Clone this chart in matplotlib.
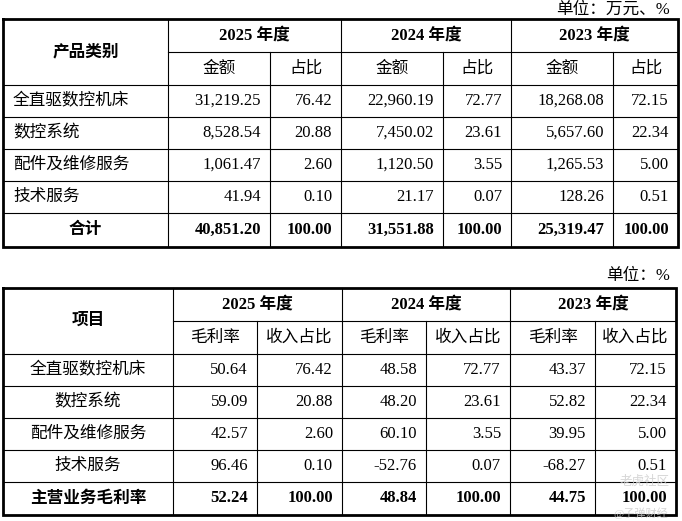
import matplotlib.pyplot as plt

years = ["2025 年度", "2024 年度", "2023 年度"]

# 表一：主营业务收入构成
cats1 = ["全直驱数控机床", "数控系统", "配件及维修服务", "技术服务"]
amt_2025 = [31219.25, 8528.54, 1061.47, 41.94]
pct_2025 = [76.42, 20.88, 2.60, 0.10]
amt_2024 = [22960.19, 7450.02, 1120.50, 21.17]
pct_2024 = [72.77, 23.61, 3.55, 0.07]
amt_2023 = [18268.08, 5657.60, 1265.53, 128.26]
pct_2023 = [72.15, 22.34, 5.00, 0.51]
total_amt = [40851.20, 31551.88, 25319.47]
total_pct = [100.00, 100.00, 100.00]

# 表二：毛利率
cats2 = ["全直驱数控机床", "数控系统", "配件及维修服务", "技术服务"]
gm_2025 = [50.64, 59.09, 42.57, 96.46]
share_2025 = [76.42, 20.88, 2.60, 0.10]
gm_2024 = [48.58, 48.20, 60.10, -52.76]
share_2024 = [72.77, 23.61, 3.55, 0.07]
gm_2023 = [43.37, 52.82, 39.95, -68.27]
share_2023 = [72.15, 22.34, 5.00, 0.51]
total_gm = [52.24, 48.84, 44.75]
total_share = [100.00, 100.00, 100.00]

FONT = ["Liberation Serif", "Noto Sans CJK SC", "DejaVu Sans"]
HFONT = ["Liberation Serif", "Noto Sans CJK SC", "DejaVu Sans"]

fig = plt.figure(figsize=(6.82, 5.21), dpi=100)
ax = fig.add_axes([0, 0, 1, 1])
ax.set_xlim(0, 682)
ax.set_ylim(521, 0)
ax.axis("off")

OUT = 2.0
IN = 0.8


def draw_table(cols, rows, first_head, sub_heads, cats, cols_data, totals,
               total_label, fmt, cat_align):
    x0, x1 = cols[0], cols[-1]
    y0, y1 = rows[0], rows[-1]
    # horizontal lines
    ax.plot([cols[1], x1], [rows[1], rows[1]], color="black", lw=IN)
    for y in rows[2:-1]:
        ax.plot([x0, x1], [y, y], color="black", lw=IN)
    # vertical lines
    for i, x in enumerate(cols[1:-1], start=1):
        top = y0 if i % 2 == 1 else rows[1]
        ax.plot([x, x], [top, y1], color="black", lw=IN)
    # outer border
    ax.plot([x0, x1, x1, x0, x0], [y0, y0, y1, y1, y0], color="black", lw=OUT,
            solid_joinstyle="miter")

    # header
    ax.text((cols[0] + cols[1]) / 2, (rows[0] + rows[2]) / 2, first_head,
            ha="center", va="center", fontsize=12, fontweight="bold", family=HFONT)
    for k, yr in enumerate(years):
        xa, xb = cols[1 + 2 * k], cols[3 + 2 * k]
        ax.text((xa + xb) / 2, (rows[0] + rows[1]) / 2, yr, ha="center", va="center",
                fontsize=12, fontweight="bold", family=HFONT)
        for j in range(2):
            ax.text((cols[1 + 2 * k + j] + cols[2 + 2 * k + j]) / 2,
                    (rows[1] + rows[2]) / 2, sub_heads[j], ha="center", va="center",
                    fontsize=12, family=FONT)

    # body
    for r, name in enumerate(cats):
        yc = (rows[2 + r] + rows[3 + r]) / 2
        if cat_align == "left":
            ax.text(cols[0] + 10, yc, name, ha="left", va="center", fontsize=12, family=FONT)
        else:
            ax.text((cols[0] + cols[1]) / 2, yc, name, ha="center", va="center",
                    fontsize=12, family=FONT)
        for c, series in enumerate(cols_data):
            ax.text(cols[2 + c] - 9, yc, fmt[c % 2](series[r]), ha="right", va="center",
                    fontsize=12, family=FONT)

    yc = (rows[-2] + rows[-1]) / 2
    ax.text((cols[0] + cols[1]) / 2, yc, total_label, ha="center", va="center",
            fontsize=12, fontweight="bold", family=HFONT)
    for k in range(3):
        for j in range(2):
            ax.text(cols[2 + 2 * k + j] - 9, yc, fmt[j](totals[j][k]), ha="right",
                    va="center", fontsize=12, fontweight="bold", family=HFONT)


money = lambda v: f"{v:,.2f}"
plain = lambda v: f"{v:.2f}"

ax.text(670, 10, "单位：万元、%", ha="right", va="center", fontsize=12, family=FONT)
draw_table([3, 168, 270, 341, 443, 511, 613, 678],
           [19, 52, 85, 117, 149, 181, 213, 247],
           "产品类别", ["金额", "占比"], cats1,
           [amt_2025, pct_2025, amt_2024, pct_2024, amt_2023, pct_2023],
           [total_amt, total_pct], "合计", [money, plain], "left")

ax.text(670, 276, "单位：%", ha="right", va="center", fontsize=12, family=FONT)
draw_table([3, 173, 257, 342, 426, 510, 595, 676],
           [288, 321, 354, 386, 418, 450, 482, 515],
           "项目", ["毛利率", "收入占比"], cats2,
           [gm_2025, share_2025, gm_2024, share_2024, gm_2023, share_2023],
           [total_gm, total_share], "主营业务毛利率", [plain, plain], "center")

# watermark
ax.text(670, 482, "老虎社区", ha="right", va="center", fontsize=9, color="#cccccc",
        family=FONT, alpha=0.8)
ax.text(668, 513, "@子弹财经", ha="right", va="center", fontsize=8, color="#cccccc",
        family=FONT, alpha=0.8)

fig.savefig("out.png", dpi=100)
